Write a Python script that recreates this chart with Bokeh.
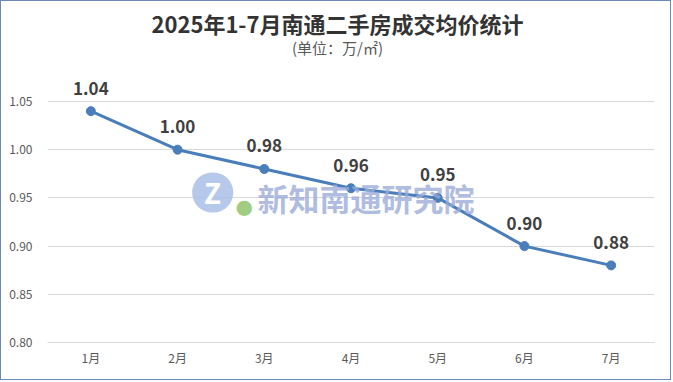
from bokeh.plotting import figure
from bokeh.models import ColumnDataSource, LabelSet, Label, FixedTicker, Range1d, NumeralTickFormatter
from bokeh.core.properties import value
from bokeh.embed import file_html
from bokeh.resources import INLINE

# ---- data ----
months = ["1月", "2月", "3月", "4月", "5月", "6月", "7月"]
prices = [1.04, 1.00, 0.98, 0.96, 0.95, 0.90, 0.88]
y_ticks = [0.80, 0.85, 0.90, 0.95, 1.00, 1.05]
title_text = "2025年1-7月南通二手房成交均价统计"
subtitle_text = "(单位：万/㎡)"
watermark_text = "新知南通研究院"

FONT = "Noto Sans CJK SC"
LINE_COLOR = "#4a7ebb"

xs = list(range(1, len(months) + 1))
src = ColumnDataSource(dict(x=xs, y=prices, label=[f"{v:.2f}" for v in prices]))

p = figure(width=671, height=380, output_backend="svg", toolbar_location=None,
           x_range=Range1d(0.5, 7.5), y_range=Range1d(0.80, 1.1475),
           min_border_left=46, min_border_right=18, min_border_top=6, min_border_bottom=39)
p.outline_line_color = None
p.background_fill_color = "white"
p.border_fill_color = "white"
p.styles = {"border": "1px solid #6a8bb5"}

p.xgrid.grid_line_color = None
p.ygrid.grid_line_color = "#d9d9d9"
p.ygrid.grid_line_width = 1

p.yaxis.ticker = FixedTicker(ticks=y_ticks)
p.yaxis.formatter = NumeralTickFormatter(format="0.00")
p.yaxis.axis_line_color = None
p.yaxis.major_tick_line_color = None
p.yaxis.minor_tick_line_color = None
p.yaxis.major_label_standoff = 9

p.xaxis.ticker = FixedTicker(ticks=xs)
p.xaxis.major_label_overrides = {i: m for i, m in zip(xs, months)}
p.xaxis.axis_line_color = "#d9d9d9"
p.xaxis.major_tick_line_color = None
p.xaxis.minor_tick_line_color = None
p.xaxis.major_label_standoff = 0

for ax in (p.xaxis[0], p.yaxis[0]):
    ax.major_label_text_font = FONT
    ax.major_label_text_font_size = "12px"
    ax.major_label_text_color = "#595959"

# watermark
p.add_layout(Label(x=2.923, y=0.9504, text=watermark_text, text_align="left", text_baseline="middle",
                   text_font=FONT, text_font_size="31px", text_font_style="bold",
                   text_color="#9aabd9", text_alpha=0.8))
p.add_layout(Label(x=2.405, y=0.9556, text="Z", text_align="center", text_baseline="middle",
                   text_font=FONT, text_font_size="28px", text_font_style="bold", text_color="white",
                   text_line_height=1.0,
                   background_fill_color="#a9bfe8", background_fill_alpha=0.85,
                   border_radius=21, padding=dict(left=12, right=12, top=0, bottom=0)))
p.add_layout(Label(x=2.77, y=0.9400, text="●", text_align="center", text_baseline="middle",
                   text_font=FONT, text_font_size="17px", text_color="#8fc46b", text_alpha=0.85))

p.line("x", "y", source=src, line_width=3, line_color=LINE_COLOR)
p.scatter("x", "y", source=src, size=9, fill_color=LINE_COLOR, line_color=LINE_COLOR)

p.add_layout(LabelSet(x="x", y="y", text="label", source=src, text_align="center",
                      text_baseline="middle", y_offset=23, text_font=value(FONT),
                      text_font_size=value("17px"), text_font_style="bold", text_color="#404040"))

p.add_layout(Label(x=3.844, y=1.1319, text=title_text, text_align="center", text_baseline="middle",
                   text_font=FONT, text_font_size="22px", text_font_style="bold", text_color="#333333"))
p.add_layout(Label(x=3.844, y=1.1065, text=subtitle_text, text_align="center", text_baseline="middle",
                   text_font=FONT, text_font_size="15px", text_color="#595959"))

open("out.html", "w").write(file_html(p, INLINE))
